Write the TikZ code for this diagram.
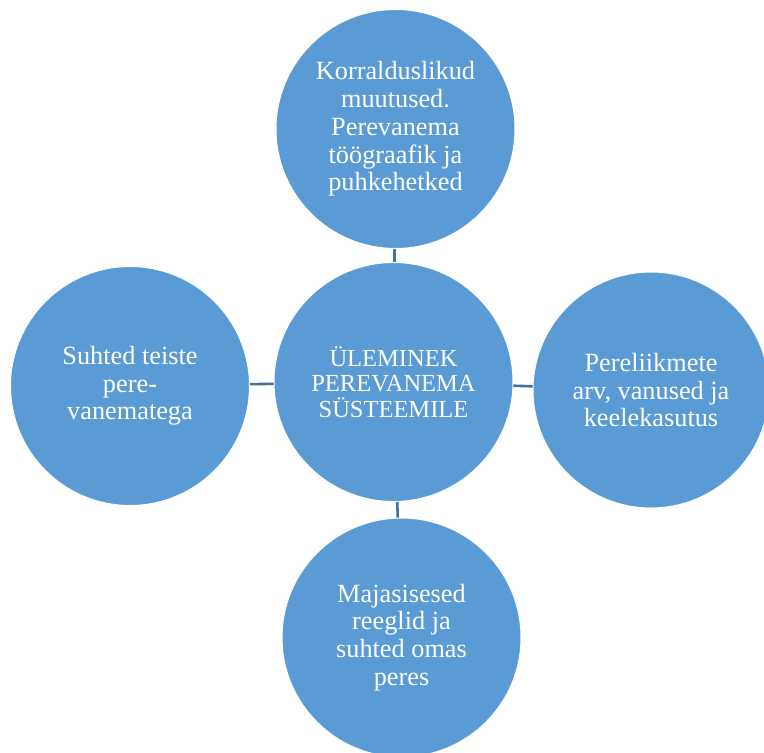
\documentclass[tikz,border=0pt]{standalone}
\usepackage{fontspec}
\setmainfont{Liberation Serif}
\definecolor{circfill}{HTML}{5B9BD5}
\definecolor{linkcol}{HTML}{41719C}
\begin{document}
\begin{tikzpicture}[x=1pt,y=-1pt,
  bubble/.style={circle, fill=circfill, draw=white, line width=1pt, minimum size=239pt, inner sep=0pt,
    text=white, align=center, font=\fontsize{26.3}{27.7}\selectfont},
  link/.style={draw=linkcol, line width=2.6pt}]
\useasboundingbox (0,0) rectangle (764,753);
\clip (0,0) rectangle (764,753);
\node[bubble] (top) at (395.5,129) {Korralduslikud\\muutused.\\Perevanema\\töögraafik ja\\puhkehetked};
\node[bubble, font=\fontsize{24.5}{25.8}\selectfont] (mid) at (393.5,382) {ÜLEMINEK\\PEREVANEMA\\SÜSTEEMILE};
\node[bubble] (left) at (130,386) {Suhted teiste\\pere-\\vanematega};
\node[bubble, minimum size=236pt] (right) at (651,390) {Pereliikmete\\arv, vanused ja\\keelekasutus};
\node[bubble] (bot) at (401.5,637.5) {Majasisesed\\reeglid ja\\suhted omas\\peres};
\draw[link] (mid) -- (top);
\draw[link] (mid) -- (left);
\draw[link] (mid) -- (right);
\draw[link] (mid) -- (bot);
\end{tikzpicture}
\end{document}
